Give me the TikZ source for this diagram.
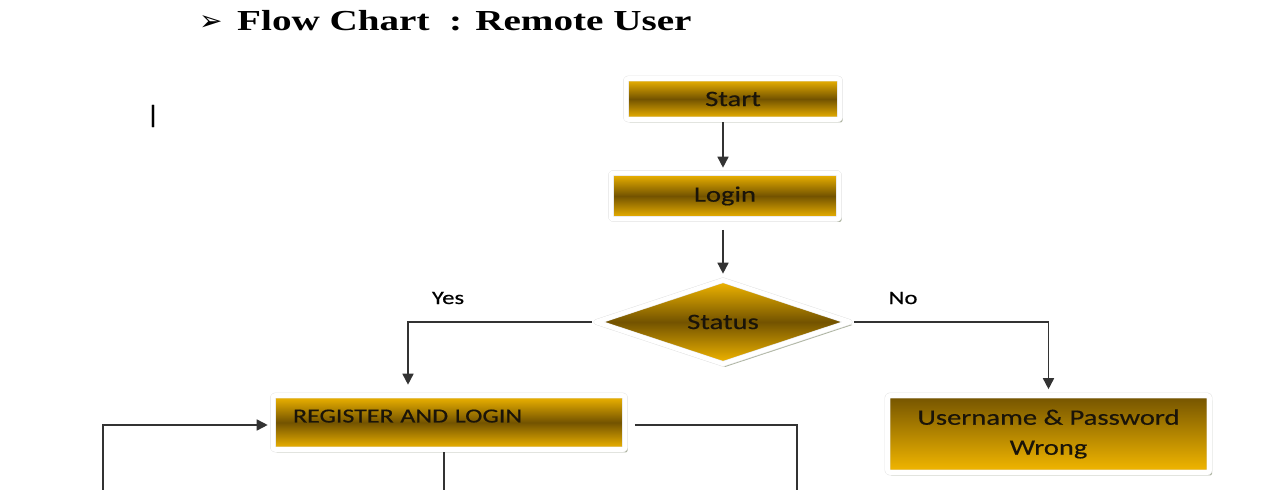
\documentclass[tikz,border=0pt]{standalone}
\usepackage{fontspec}
\usetikzlibrary{arrows.meta, positioning, shapes.geometric, shadows}
\setmainfont{Carlito}
\newfontfamily\bodyfont[FakeStretch=1.3, FakeBold=0.4]{Carlito}
\newfontfamily\titlefont[FakeStretch=1.35]{Liberation Serif}
\newfontfamily\markfont{DejaVu Sans}
\definecolor{ink}{HTML}{1A1409}
\definecolor{goldA}{HTML}{F4B800}
\definecolor{goldB}{HTML}{735300}
\definecolor{shadowc}{HTML}{A3AB95}
\definecolor{linec}{HTML}{333333}
\tikzset{
  frame/.style={draw=gray!22, line width=5.6pt, line join=round,
    postaction={draw=white, line width=4.6pt},
    drop shadow={shadow xshift=2.5pt, shadow yshift=-3pt, fill=shadowc, opacity=0.9}},
  goldbox/.style={frame, rectangle, rounded corners=2pt, inner sep=0pt,
    top color=goldA, bottom color=goldA, middle color=goldB,
    font=\bodyfont\fontsize{22}{26}\selectfont, text=ink},
  statusbox/.style={goldbox, diamond, rounded corners=0pt, minimum width=256pt, minimum height=74pt},
  wrongbox/.style={goldbox, top color=goldB, bottom color=goldA, align=center,
    font=\bodyfont\fontsize{22}{30}\selectfont},
  lbl/.style={font=\bodyfont\fontsize{19}{22}\selectfont, text=black},
  arrow/.style={-{Triangle[length=11pt,width=11pt]}, line width=1.6pt, draw=linec, shorten >=2.5pt},
  line/.style={line width=1.6pt, draw=linec}
}

\begin{document}
\begin{tikzpicture}[x=1pt,y=1pt]
\useasboundingbox (0,0) rectangle (1264,490);

% heading
\node[anchor=base west, inner sep=0pt, font=\markfont\fontsize{28}{30}\selectfont] (mark) at (199,459) {➢};
\node[anchor=base west, inner sep=0pt, font=\titlefont\bfseries\fontsize{29}{32}\selectfont] (title) at (237,459) {Flow Chart\ \ : Remote User};
\node[inner sep=0pt, font=\bodyfont\fontsize{25}{25}\selectfont] (cursor) at (153,374) {|};

% boxes
\node[goldbox, minimum width=214pt, minimum height=41pt] (start) at (733,391) {\raisebox{-3pt}{Start}};
\node[goldbox, minimum width=228pt, minimum height=46pt] (login) at (725,294) {Login};
\node[statusbox] (status) at (723,168) {Status};
\node[goldbox, minimum width=352pt, minimum height=54pt, text width=312pt, align=left,
  inner xsep=20pt, text height=14pt, text depth=14pt,
  font=\bodyfont\fontsize{20}{24}\selectfont] (register) at (449,67.5) {REGISTER AND LOGIN};
\node[wrongbox, minimum width=322pt, minimum height=77pt] (wrong) at (1048.5,56) {Username \& Password\\Wrong};

\node[lbl] (yes) at (448,192) {Yes};
\node[lbl] (no) at (903,192) {No};

\coordinate (loopin) at (103,0);
\coordinate (outA) at (444,0);
\coordinate (outB) at (797,0);

% connectors
\draw[arrow] (start.south -| status.north) -- (login.north -| status.north);
\draw[arrow, shorten <=8pt] (login.south -| status.north) -- (status.north);
\draw[arrow, shorten >=8pt] (status.west) -| ([xshift=-41pt]register.north);
\draw[arrow, shorten >=3.5pt] (status.east) -| (wrong.north);
\draw[arrow] (loopin) |- ([yshift=-2.5pt]register.west);
\draw[line] (register.south -| outA) -- (outA);
\draw[line] ([xshift=7pt,yshift=-2.5pt]register.east) -| (outB);

\end{tikzpicture}
\end{document}
